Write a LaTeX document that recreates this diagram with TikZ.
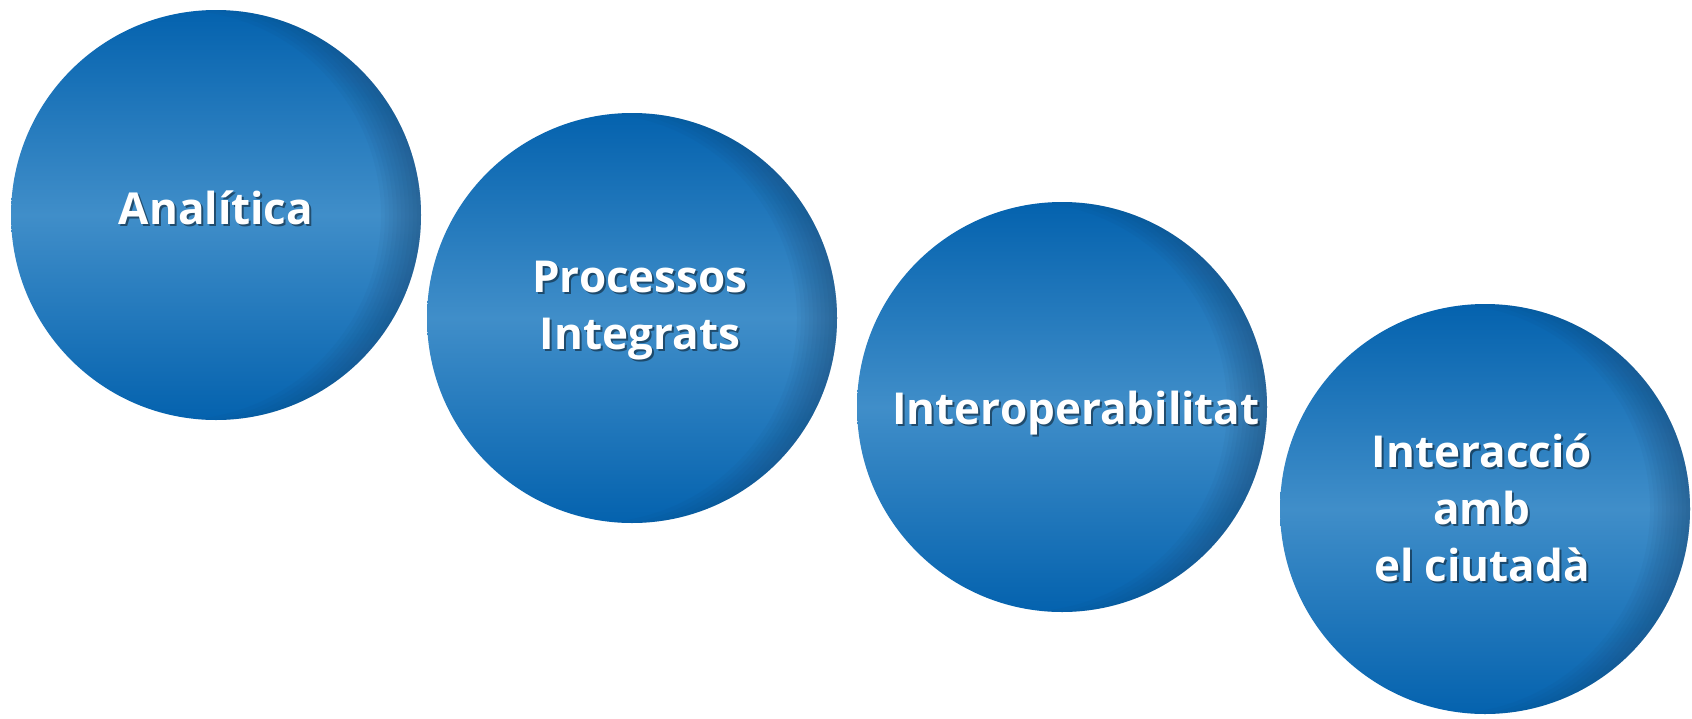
\documentclass[tikz,border=0pt]{standalone}
\usepackage{fontspec}
\setmainfont{Open Sans}
\definecolor{bTop}{RGB}{4,98,174}
\definecolor{bMid}{RGB}{64,142,201}
\definecolor{bRim}{RGB}{24,64,104}
\tikzset{
  ball/.style={circle, minimum size=410pt, inner sep=0pt, draw=none,
    top color=bTop, bottom color=bTop, middle color=bMid},
  rimstroke/.style={draw=bRim, opacity=0.055},
  lbl/.style={text=white, font=\fontsize{44}{57}\selectfont\bfseries, align=center, inner sep=0pt},
  lblshadow/.style={text=black, opacity=0.45, font=\fontsize{44}{57}\selectfont\bfseries, align=center, inner sep=0pt}
}
\begin{document}
\begin{tikzpicture}[x=1pt,y=-1pt]
\useasboundingbox (0,0) rectangle (1692,718);
\fill[white] (0,0) rectangle (1692,718);
% circles
\node[ball] (c1) at (216,215) {};
\node[ball] (c2) at (632,318) {};
\node[ball] (c3) at (1062,407) {};
\node[ball] (c4) at (1485,509) {};
% darker rim on the right side of each ball
\foreach \c in {c1,c2,c3,c4}{
  \begin{scope}
    \clip (\c.center) circle (205pt);
    \foreach \w in {8,16,...,80}{
      \draw[rimstroke, line width=\w pt] ([xshift=-40pt]\c.center) circle (245pt);
    }
  \end{scope}
}
% labels
\node[lblshadow] (s1) at (218,210) {Analítica};
\node[lbl] (t1) at (216,208) {Analítica};
\node[lblshadow] (s2) at (642,313) {Processos\\Integrats};
\node[lbl] (t2) at (640,311) {Processos\\Integrats};
\node[lblshadow] (s3) at (1078,415) {Interoperabilitat};
\node[lbl] (t3) at (1076,413) {Interoperabilitat};
\node[lblshadow] (s4) at (1484,510) {Interacció\\amb\\el ciutadà};
\node[lbl] (t4) at (1482,508) {Interacció\\amb\\el ciutadà};
\end{tikzpicture}
\end{document}
